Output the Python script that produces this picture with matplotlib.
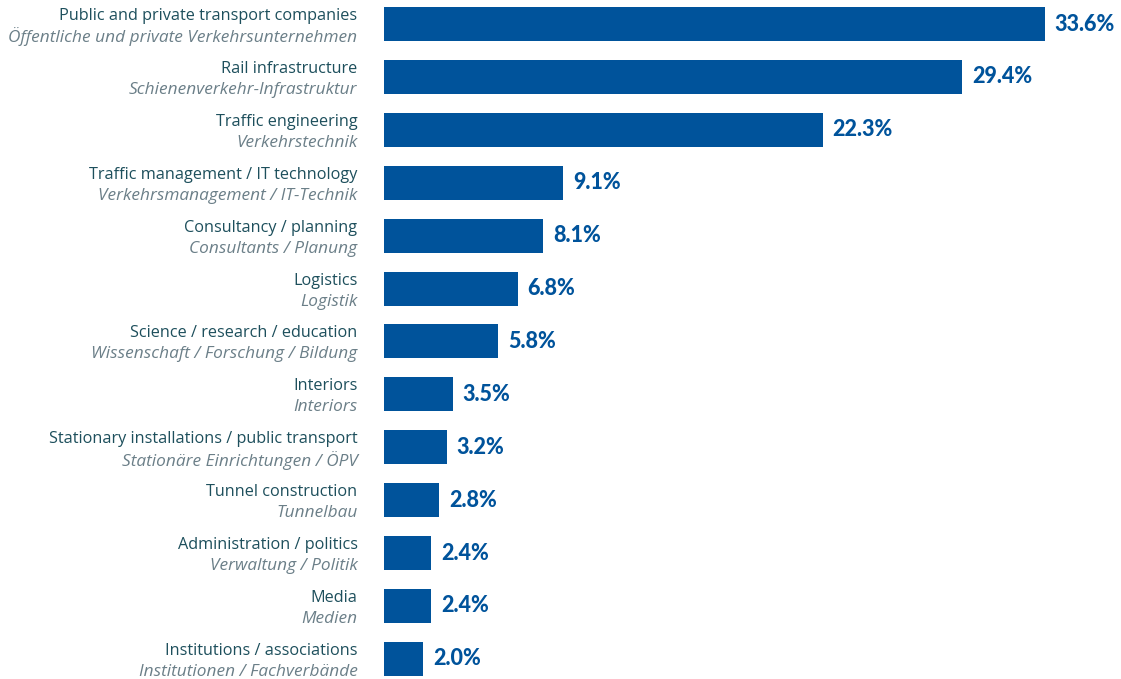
import matplotlib
matplotlib.use("Agg")
import matplotlib.pyplot as plt

labels_en = [
    "Public and private transport companies",
    "Rail infrastructure",
    "Traffic engineering",
    "Traffic management / IT technology",
    "Consultancy / planning",
    "Logistics",
    "Science / research / education",
    "Interiors",
    "Stationary installations / public transport",
    "Tunnel construction",
    "Administration / politics",
    "Media",
    "Institutions / associations",
]
labels_de = [
    "Öffentliche und private Verkehrsunternehmen",
    "Schienenverkehr-Infrastruktur",
    "Verkehrstechnik",
    "Verkehrsmanagement / IT-Technik",
    "Consultants / Planung",
    "Logistik",
    "Wissenschaft / Forschung / Bildung",
    "Interiors",
    "Stationäre Einrichtungen / ÖPV",
    "Tunnelbau",
    "Verwaltung / Politik",
    "Medien",
    "Institutionen / Fachverbände",
]
values = [33.6, 29.4, 22.3, 9.1, 8.1, 6.8, 5.8, 3.5, 3.2, 2.8, 2.4, 2.4, 2.0]

BAR = "#00539b"
EN = "#1d4f5c"
DE = "#6b7f88"

W, H = 1121, 679
fig = plt.figure(figsize=(W / 100, H / 100), dpi=100)
ax = fig.add_axes([384 / W, 0, 737 / W, 1])
ax.set_xlim(0, 737 / 19.67)
ax.set_ylim(12.38, -0.4537)
ax.axis("off")

ypos = list(range(len(values)))
ax.barh(ypos, values, height=0.643, color=BAR, left=0)

for y, v in zip(ypos, values):
    ax.text(v + 0.5, y, f"{v:.1f}%", va="center", ha="left",
            fontsize=15.5, fontweight=900, color=BAR, family="Lato")

for y, en, de in zip(ypos, labels_en, labels_de):
    ax.annotate(en, xy=(0, y), xycoords="data", xytext=(-19, 8 * 0.72),
                textcoords="offset points", ha="right", va="center",
                fontsize=11.7, color=EN, family="Open Sans", annotation_clip=False)
    ax.annotate(de, xy=(0, y), xycoords="data", xytext=(-19, -13 * 0.72),
                textcoords="offset points", ha="right", va="center",
                fontsize=12.4, color=DE, family="Open Sans", style="italic",
                annotation_clip=False)

fig.savefig("out.png", dpi=100)
